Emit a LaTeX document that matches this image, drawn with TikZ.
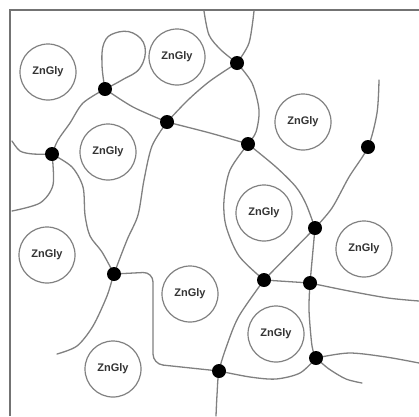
\documentclass[tikz,border=0pt]{standalone}
\usepackage{fontspec}
\setmainfont{Liberation Sans}
\begin{document}
\begin{tikzpicture}[x=1pt,y=-1pt,
  chain/.style={draw=black!50,line width=1.3pt,line cap=round},
  zn/.style={circle,draw=black!50,line width=1.2pt,minimum size=56pt,inner sep=0pt,font=\fontsize{11}{12}\selectfont\bfseries,text=black!80},
  junction/.style={circle,fill=black,minimum size=14pt,inner sep=0pt},
  frameline/.style={draw=black!55,line width=2pt}]
\useasboundingbox (0,0) rectangle (419,416);
% frame
\coordinate (F1) at (10,416);
\coordinate (F2) at (10,10);
\coordinate (F3) at (419,10);
\draw[frameline] (F1) -- (F2) -- (F3);
% molecules
\node[zn] (C1) at (48,72) {ZnGly};
\node[zn] (C2) at (177,57) {ZnGly};
\node[zn] (C3) at (108,152) {ZnGly};
\node[zn] (C4) at (303,122) {ZnGly};
\node[zn] (C5) at (47,255) {ZnGly};
\node[zn] (C6) at (113,369) {ZnGly};
\node[zn] (C7) at (190,294) {ZnGly};
\node[zn] (C8) at (264,213) {ZnGly};
\node[zn] (C9) at (364,249) {ZnGly};
\node[zn] (C10) at (276,334) {ZnGly};
% junction positions
\coordinate (D1) at (105,89);
\coordinate (D2) at (167,122);
\coordinate (D3) at (52,154);
\coordinate (D4) at (237,63);
\coordinate (D5) at (248,144);
\coordinate (D6) at (368,147);
\coordinate (D7) at (114,274);
\coordinate (D8) at (315,228);
\coordinate (D9) at (264,280);
\coordinate (D10) at (310,283);
\coordinate (D11) at (316,358);
\coordinate (D12) at (219,371);
% free ends
\coordinate (E1) at (12,141);
\coordinate (E2) at (12,211);
\coordinate (E3) at (57,354);
\coordinate (E4) at (204,11);
\coordinate (E5) at (254,11);
\coordinate (E6) at (379,80);
\coordinate (E7) at (216,416);
\coordinate (E8) at (419,301);
\coordinate (E9) at (419,363);
\coordinate (E10) at (362,383);
% chains
\draw[chain] plot[smooth,tension=0.7] coordinates {(D1) (102,65) (104,43) (115,33) (133,33) (145,47) (140,68) (122,80) (D1)};
\draw[chain] plot[smooth] coordinates {(D1) (133,107) (D2)};
\draw[chain] plot[smooth] coordinates {(D1) (83,103) (70,123) (58,140) (D3)};
\draw[chain] plot[smooth] coordinates {(E1) (20,151) (33,154) (D3)};
\draw[chain] plot[smooth] coordinates {(D3) (53,185) (40,203) (E2)};
\draw[chain] plot[smooth] coordinates {(D3) (72,167) (83,187) (85,215) (90,236) (102,252) (D7)};
\draw[chain] plot[smooth] coordinates {(D2) (210,133) (D5)};
\draw[chain] plot[smooth] coordinates {(D2) (188,100) (210,81) (D4)};
\draw[chain] plot[smooth] coordinates {(D2) (152,146) (144,180) (138,215) (127,240) (D7) (107,296) (93,326) (77,346) (E3)};
\draw[chain] plot[smooth] coordinates {(D4) (221,50) (209,35) (E4)};
\draw[chain] plot[smooth] coordinates {(D4) (249,43) (E5)};
\draw[chain] plot[smooth] coordinates {(D4) (252,83) (259,110) (256,132) (D5)};
\draw[chain] plot[smooth] coordinates {(D5) (230,170) (224,200) (226,226) (239,256) (D9)};
\draw[chain] plot[smooth] coordinates {(D5) (276,167) (296,187) (306,204) (D8)};
\draw[chain] plot[smooth] coordinates {(E6) (377,113) (D6) (349,177) (332,208) (D8)};
\draw[chain] (D8) -- (D10);
\draw[chain] (D8) -- (D9);
\draw[chain] plot[smooth] coordinates {(D9) (239,316) (227,345) (D12) (217,395) (E7)};
\draw[chain] (D9) -- (D10);
\draw[chain] plot[smooth] coordinates {(D10) (349,291) (388,298) (E8)};
\draw[chain] plot[smooth] coordinates {(D10) (309,310) (312,346) (D11)};
\draw[chain] plot[smooth] coordinates {(D11) (349,353) (386,357) (E9)};
\draw[chain] plot[smooth] coordinates {(D11) (329,369) (346,379) (E10)};
\draw[chain] plot[smooth] coordinates {(D11) (300,373) (276,379) (250,377) (D12)};
\draw[chain,rounded corners=10pt] (D7) -- (153,272) -- (153,364) -- (D12);
% junction dots
\foreach \d in {D1,D2,D3,D4,D5,D6,D7,D8,D9,D10,D11,D12}
  \node[junction] (n\d) at (\d) {};
\end{tikzpicture}
\end{document}
